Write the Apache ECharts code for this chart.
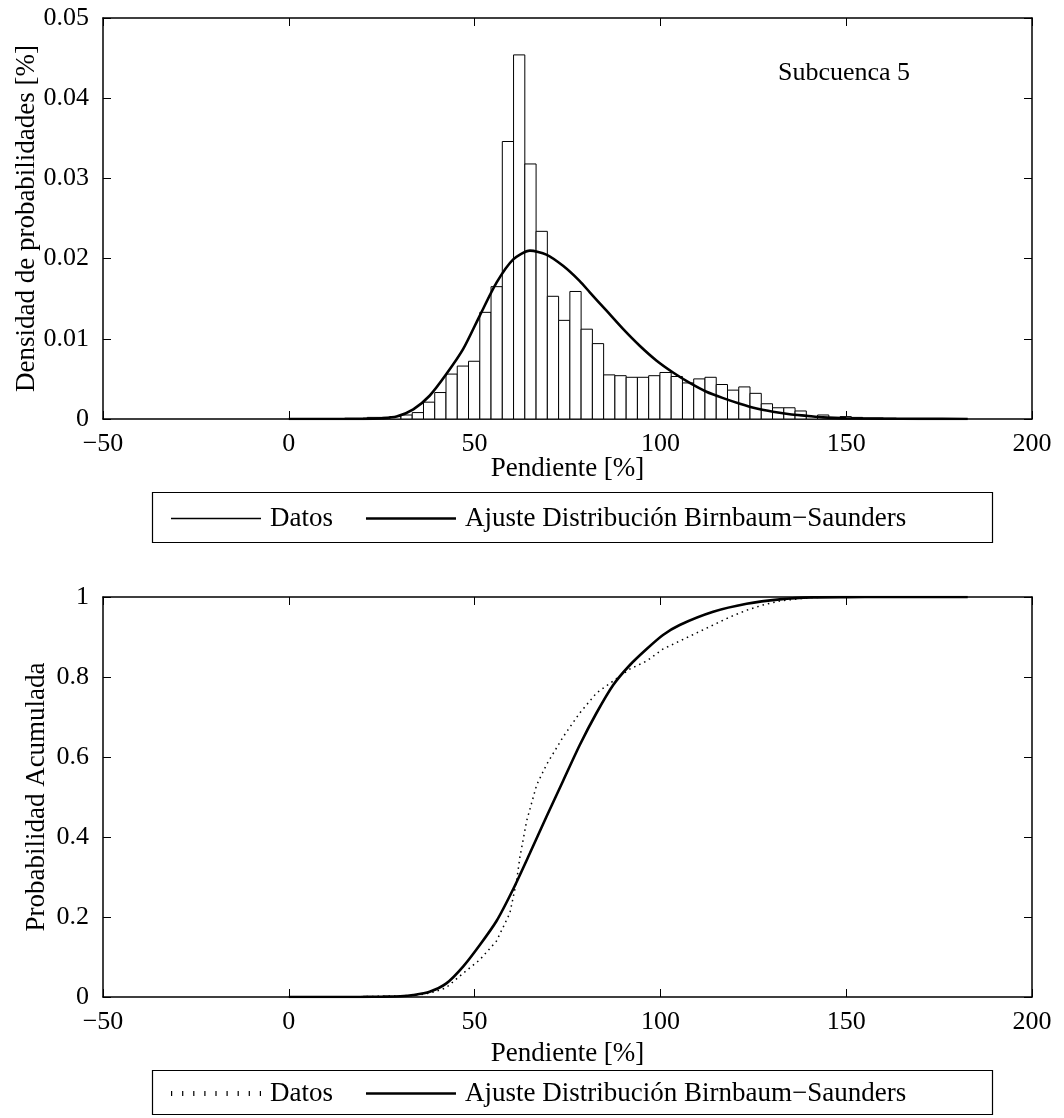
<!DOCTYPE html>
<html>
<head>
<meta charset="utf-8">
<script src="https://cdn.jsdelivr.net/npm/echarts@6/dist/echarts.min.js"></script>
<style>
html,body{margin:0;padding:0;background:#fff;}
#main{width:1064px;height:1118px;}
</style>
</head>
<body>
<div id="main"></div>
<script>
// ---------- DATA ----------
const binWidth = 3.03;
const binCenters = [16.55, 19.58, 22.61, 25.64, 28.67, 31.70, 34.73, 37.76, 40.79, 43.82,
  46.85, 49.88, 52.91, 55.94, 58.97, 62.00, 65.03, 68.06, 71.09, 74.12,
  77.15, 80.18, 83.21, 86.24, 89.27, 92.30, 95.33, 98.36, 101.39, 104.42,
  107.45, 110.48, 113.51, 116.54, 119.57, 122.60, 125.63, 128.66, 131.69, 134.72,
  137.75, 140.78, 143.81, 146.84, 149.87, 152.90, 155.93, 158.96, 161.99, 165.02,
  168.05, 171.08, 174.11, 177.14, 180.17];
const binDensity = [0.0001, 0.0001, 0.0002, 0.0002, 0.0003, 0.0005, 0.0008, 0.0021, 0.0033, 0.0056,
  0.0066, 0.0072, 0.0133, 0.0165, 0.0346, 0.0454, 0.0318, 0.0234, 0.0153, 0.0123,
  0.0159, 0.0112, 0.0094, 0.0055, 0.0054, 0.0052, 0.0052, 0.0054, 0.0058, 0.0053,
  0.0045, 0.0050, 0.0052, 0.0043, 0.0036, 0.0040, 0.0032, 0.0019, 0.0014, 0.0014,
  0.0010, 0.0003, 0.0005, 0.0002, 0.0003, 0.0002, 0.0001, 0.0001, 0.0001, 0.00005,
  0.00005, 0.00005, 0.00003, 0.00003, 0.00003];

const pdfX = [0, 10, 20, 25, 29, 33.5, 37.9, 42.4, 46.9, 51.4, 55.9, 60.4, 64.9, 69.3, 73.8, 78.3,
  81.0, 85.5, 90, 94.5, 98.9, 103.4, 107.9, 112.4, 116.9, 121.4, 125.9, 130.3, 134.8, 139.3,
  143.8, 150, 160, 170, 182.7];
const pdfY = [0, 0, 0.00002, 0.0001, 0.0003, 0.0012, 0.0029, 0.0056, 0.0087, 0.0129, 0.0170, 0.0199, 0.0210, 0.0205, 0.0191, 0.0172,
  0.0158, 0.0135, 0.0112, 0.0091, 0.0073, 0.0058, 0.0045, 0.0034, 0.0026, 0.0019, 0.0013, 0.0009, 0.0006, 0.0004,
  0.0002, 0.0001, 0.00005, 0.00002, 0];

const ecdfX = [15, 20, 25, 30, 33.2, 36.3, 39.3, 42.3, 44.2, 47, 51.4, 55.9, 59.5, 61.3, 62.2, 64.0, 66.7, 69.3,
  73.8, 78.3, 82.8, 87.3, 91.8, 96.3, 100.7, 105.2, 109.7, 114.2, 118.7, 123.2, 127.6, 132.1, 136.6,
  141.1, 150, 160, 170, 182];
const ecdfY = [0, 0.001, 0.002, 0.003, 0.004, 0.007, 0.013, 0.023, 0.038, 0.06, 0.093, 0.14, 0.21, 0.29, 0.35, 0.44, 0.53, 0.58,
  0.65, 0.71, 0.76, 0.79, 0.82, 0.84, 0.87, 0.89, 0.91, 0.93, 0.95, 0.967, 0.98, 0.99, 0.995,
  0.999, 0.9995, 0.9998, 0.9999, 1];

const cdfX = [0, 10, 20, 25, 30, 33.5, 37.9, 42.4, 46.9, 51.4, 55.9, 60.4, 64.9, 69.3, 73.8, 78.3, 82.8, 87.3,
  91.8, 96.3, 100.7, 105.2, 114.2, 123.2, 132.1, 141.1, 150, 160, 170, 182.7];
const cdfY = [0, 0, 0.0002, 0.0008, 0.002, 0.005, 0.013, 0.034, 0.076, 0.13, 0.19, 0.27, 0.36, 0.45, 0.54, 0.63, 0.71, 0.78,
  0.83, 0.87, 0.905, 0.93, 0.963, 0.983, 0.994, 0.999, 0.9997, 0.9999, 1, 1];

const xTicks = { min: -50, max: 200, interval: 50 };
const legendLabels = {
  'Datos': 'Datos',
  'Ajuste Distribución Birnbaum−Saunders': 'Ajuste Distribución Birnbaum−Saunders',
  'Datos (acumulada)': 'Datos',
  'Ajuste (acumulada)': 'Ajuste Distribución Birnbaum−Saunders'
};

// ---------- CHART ----------
const FONT = 'Liberation Serif';
const FS = 26;
const FSN = 27;
const chart = echarts.init(document.getElementById('main'), null, { renderer: 'canvas' });

function zip(a, b) { return a.map((v, i) => [v, b[i]]); }
const minusFmt = v => String(v).replace('-', '\u2212');

const axisLine = { show: true, onZero: false, lineStyle: { color: '#000', width: 1.5 } };
const tick = { show: true, inside: true, length: 8, lineStyle: { color: '#000', width: 1 } };
const lbl = { color: '#000', fontFamily: FONT, fontSize: FS };
const nameLbl = { color: '#000', fontFamily: FONT, fontSize: FSN };

function xAx(grid, withLabels) {
  return {
    type: 'value', gridIndex: grid, min: xTicks.min, max: xTicks.max, interval: xTicks.interval,
    position: withLabels ? 'bottom' : 'top',
    axisLine: axisLine, axisTick: tick, splitLine: { show: false },
    axisLabel: withLabels ? Object.assign({ margin: 12, formatter: minusFmt }, lbl) : { show: false },
    name: withLabels ? 'Pendiente [%]' : '',
    nameLocation: 'middle', nameGap: grid === 0 ? 36 : 43, nameMoveOverlap: false,
    nameTextStyle: nameLbl
  };
}
function yAx(grid, left, max, interval, name, gap) {
  return {
    type: 'value', gridIndex: grid, min: 0, max: max, interval: interval,
    position: left ? 'left' : 'right',
    axisLine: axisLine, axisTick: tick, splitLine: { show: false },
    axisLabel: left ? Object.assign({ margin: 14 }, lbl) : { show: false },
    name: left ? name : '', nameLocation: 'middle', nameGap: gap, nameMoveOverlap: false,
    nameTextStyle: nameLbl
  };
}

const thinIcon = 'path://M0,0H90V1.3H0Z';
const thickIcon = 'path://M0,0H90V2.6H0Z';
const dotIcon = 'path://M0,0h1.2v5h-1.2zM11,0h1.2v5h-1.2zM22,0h1.2v5h-1.2zM33,0h1.2v5h-1.2zM44,0h1.2v5h-1.2zM55,0h1.2v5h-1.2zM66,0h1.2v5h-1.2zM77,0h1.2v5h-1.2zM88,0h1.2v5h-1.2z';
const black = { color: '#000', borderWidth: 0 };

const option = {
  backgroundColor: '#fff',
  animation: false,
  textStyle: { fontFamily: FONT },
  grid: [
    { left: 103, top: 18, width: 929, height: 401, outerBoundsMode: 'none', containLabel: false },
    { left: 103, top: 597, width: 929, height: 400, outerBoundsMode: 'none', containLabel: false }
  ],
  xAxis: [xAx(0, true), xAx(0, false), xAx(1, true), xAx(1, false)],
  yAxis: [
    yAx(0, true, 0.05, 0.01, 'Densidad de probabilidades [%]', 63),
    yAx(0, false, 0.05, 0.01, '', 0),
    yAx(1, true, 1, 0.2, 'Probabilidad Acumulada', 53),
    yAx(1, false, 1, 0.2, '', 0)
  ],
  legend: [
    {
      left: 166, top: 500, itemWidth: 90, itemHeight: 14, itemGap: 33,
      data: [
        { name: 'Datos', icon: thinIcon, itemStyle: black },
        { name: 'Ajuste Distribución Birnbaum−Saunders', icon: thickIcon, itemStyle: black }
      ],
      formatter: n => legendLabels[n],
      textStyle: Object.assign({ padding: [0, 0, 0, 4] }, nameLbl),
      selectedMode: false
    },
    {
      left: 166, top: 1075, itemWidth: 90, itemHeight: 14, itemGap: 33,
      data: [
        { name: 'Datos (acumulada)', icon: dotIcon, itemStyle: black },
        { name: 'Ajuste (acumulada)', icon: thickIcon, itemStyle: black }
      ],
      formatter: n => legendLabels[n],
      textStyle: Object.assign({ padding: [0, 0, 0, 4] }, nameLbl),
      selectedMode: false
    }
  ],
  graphic: [
    { type: 'rect', left: 150, top: 490, shape: { width: 840, height: 50 }, style: { fill: null, stroke: '#000', lineWidth: 1.2 }, z: 0 },
    { type: 'rect', left: 150, top: 1068, shape: { width: 840, height: 44 }, style: { fill: null, stroke: '#000', lineWidth: 1.2 }, z: 0 },
    { type: 'text', left: 778, top: 60, style: { text: 'Subcuenca 5', font: FS + 'px "' + FONT + '"', fill: '#000' } }
  ],
  series: [
    {
      name: 'Datos', type: 'custom', xAxisIndex: 0, yAxisIndex: 0,
      data: zip(binCenters, binDensity),
      encode: { x: 0, y: 1 },
      renderItem: function (params, api) {
        const c = api.value(0), h = api.value(1);
        const p0 = api.coord([c - binWidth / 2, h]);
        const p1 = api.coord([c + binWidth / 2, 0]);
        return {
          type: 'rect',
          shape: { x: p0[0], y: p0[1], width: p1[0] - p0[0], height: p1[1] - p0[1] },
          style: { fill: '#fff', stroke: '#000', lineWidth: 1 }
        };
      },
      itemStyle: { color: '#000' },
      z: 2
    },
    {
      name: 'Ajuste Distribución Birnbaum−Saunders', type: 'line', xAxisIndex: 0, yAxisIndex: 0,
      data: zip(pdfX, pdfY), showSymbol: false, symbol: 'none', smooth: 0.25,
      lineStyle: { color: '#000', width: 2.6 }, itemStyle: { color: '#000' }, z: 3
    },
    {
      name: 'Datos (acumulada)', type: 'line', xAxisIndex: 2, yAxisIndex: 2,
      data: zip(ecdfX, ecdfY), showSymbol: false, symbol: 'none',
      lineStyle: { color: '#000', width: 1.5, type: [1.5, 4] }, itemStyle: { color: '#000' }, z: 3
    },
    {
      name: 'Ajuste (acumulada)', type: 'line', xAxisIndex: 2, yAxisIndex: 2,
      data: zip(cdfX, cdfY), showSymbol: false, symbol: 'none', smooth: 0.25,
      lineStyle: { color: '#000', width: 2.6 }, itemStyle: { color: '#000' }, z: 4
    }
  ]
};
chart.setOption(option);
</script>
</body>
</html>
